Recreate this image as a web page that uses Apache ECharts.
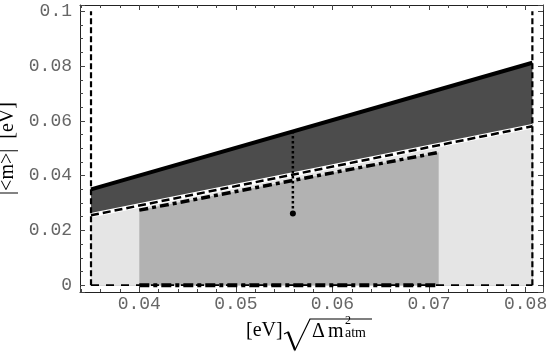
<!DOCTYPE html>
<html>
<head>
<meta charset="utf-8">
<script src="https://cdn.jsdelivr.net/npm/echarts@6/dist/echarts.min.js"></script>
<style>
  html, body { margin: 0; padding: 0; background: #fff; }
  #chart { width: 549px; height: 354px; }
</style>
</head>
<body>
<div id="chart"></div>
<script>
// sqrt(dm2_atm) window and mass curves, all in eV
const atmEnds = [0.035, 0.0807];
const massMax = [0.035, 0.0812];
const massMin = [0.0255, 0.058];
const innerEnds = [0.04, 0.071];
const innerMass = [0.0274, 0.0485];
const bestFit = 0.0559;
const bestRange = [0.0262, 0.0558];
const massCap = 0.1;
const xTicks = [0.04, 0.05, 0.06, 0.07, 0.08];
const yTicks = [0, 0.02, 0.04, 0.06, 0.08, 0.1];

const pts = (xs, ys) => xs.map((x, i) => [x, ys[i]]);
const onTick = (list, v) => list.some(t => Math.abs(t - v) < 1e-9);

const chart = echarts.init(document.getElementById('chart'));

const tickFont = { fontFamily: '"Liberation Mono", monospace', fontSize: 18, color: '#666' };
const serif = '"Liberation Serif", "DejaVu Serif", serif';

function frameAxis(extra) {
  return Object.assign({
    type: 'value',
    splitLine: { show: false },
    axisLine: { show: true, onZero: false, lineStyle: { color: '#222', width: 1 } },
    axisTick: { show: true, inside: true, length: 5, lineStyle: { color: '#444' } },
  }, extra);
}

const xBase = { min: 0.03386, max: 0.0818, minInterval: 0.01, maxInterval: 0.01 };
const yBase = { min: -0.0025, max: 0.1023, minInterval: 0.02, maxInterval: 0.02 };
const xMinor = { show: true, splitNumber: 5, length: 3, lineStyle: { color: '#444' } };
const yMinor = { show: true, splitNumber: 4, length: 3, lineStyle: { color: '#444' } };

// pieces of the x axis title, placed as titles
function piece(text, left, top, size) {
  return { text: text, left: left, top: top, padding: 0,
    textStyle: { fontSize: size, fontFamily: serif, fontWeight: 'normal', color: '#000' } };
}

const option = {
  animation: false,
  title: [
    piece('[eV]', 246, 321, 20),
    piece('Δ', 312, 322, 20),
    piece('m', 328, 322, 20),
    piece('2', 345, 315, 12),
    piece('atm', 345, 326, 14)
  ],
  grid: { left: 80, right: 6, top: 5, bottom: 62, containLabel: false, outerBoundsMode: 'none' },
  xAxis: [
    frameAxis(Object.assign({}, xBase, {
      position: 'bottom',
      minorTick: xMinor,
      axisLabel: Object.assign({}, tickFont, {
        margin: 3,
        formatter: v => onTick(xTicks, v) ? String(v) : ''
      })
    })),
    frameAxis(Object.assign({}, xBase, {
      position: 'top',
      minorTick: xMinor,
      axisLabel: { show: false }
    }))
  ],
  yAxis: [
    frameAxis(Object.assign({}, yBase, {
      position: 'left',
      minorTick: yMinor,
      axisLabel: Object.assign({}, tickFont, {
        margin: 8,
        formatter: v => onTick(yTicks, v) ? String(v) : ''
      }),
      name: '|<m>|  [eV]',
      nameLocation: 'middle',
      nameRotate: 90,
      nameGap: 58,
      nameTextStyle: { fontFamily: serif, fontSize: 20, color: '#000' }
    })),
    frameAxis(Object.assign({}, yBase, {
      position: 'right',
      minorTick: yMinor,
      axisLabel: { show: false }
    }))
  ],
  graphic: [
    { type: 'polyline', shape: { points: [[284, 334], [288, 332], [295, 350], [310, 319], [372, 319]] },
      style: { stroke: '#000', lineWidth: 1.2, fill: null } },
    { type: 'line', shape: { x1: 288, y1: 332, x2: 295, y2: 350 }, style: { stroke: '#000', lineWidth: 2.2 } }
  ],
  series: [
    // dark band: up to the maximal mass
    { type: 'line', symbol: 'none', data: pts(atmEnds, massMax),
      lineStyle: { color: '#000', width: 4 }, areaStyle: { color: '#4c4c4c', opacity: 1 } },
    // light band below the lower bound
    { type: 'line', symbol: 'none', data: pts(atmEnds, massMin),
      lineStyle: { opacity: 0 }, areaStyle: { color: '#e5e5e5', opacity: 1 } },
    // medium band inside the inner window
    { type: 'line', symbol: 'none', data: pts(innerEnds, innerMass),
      lineStyle: { opacity: 0 }, areaStyle: { color: '#b2b2b2', opacity: 1 } },
    { type: 'line', symbol: 'none', data: pts(atmEnds, massMin),
      lineStyle: { color: '#fff', width: 4.5 } },
    { type: 'line', symbol: 'none', data: pts(atmEnds, massMin),
      lineStyle: { color: '#000', width: 2.5, type: [8, 4] } },
    { type: 'line', symbol: 'none', data: pts(innerEnds, innerMass),
      lineStyle: { color: '#000', width: 3.5, type: [9, 4, 4, 4] } },
    // dashed window
    { type: 'line', symbol: 'none', data: pts(atmEnds, [0, 0]),
      lineStyle: { color: '#000', width: 1.8, type: [8, 7] } },
    { type: 'line', symbol: 'none', data: [[atmEnds[0], 0], [atmEnds[0], massCap]],
      lineStyle: { color: '#000', width: 2.2, type: [6, 3] } },
    { type: 'line', symbol: 'none', data: [[atmEnds[1], 0], [atmEnds[1], massCap]],
      lineStyle: { color: '#000', width: 2.2, type: [6, 3] } },
    { type: 'line', symbol: 'none', data: pts(innerEnds, [0, 0]),
      lineStyle: { color: '#000', width: 4, type: [10, 4, 4, 4] } },
    // best fit point
    { type: 'line', symbol: 'circle', symbolSize: 6, itemStyle: { color: '#000' },
      data: [[bestFit, bestRange[0]], { value: [bestFit, bestRange[1]], symbol: 'none' }],
      lineStyle: { color: '#000', width: 2.5, type: 'dotted' } }
  ]
};

chart.setOption(option);
</script>
</body>
</html>
